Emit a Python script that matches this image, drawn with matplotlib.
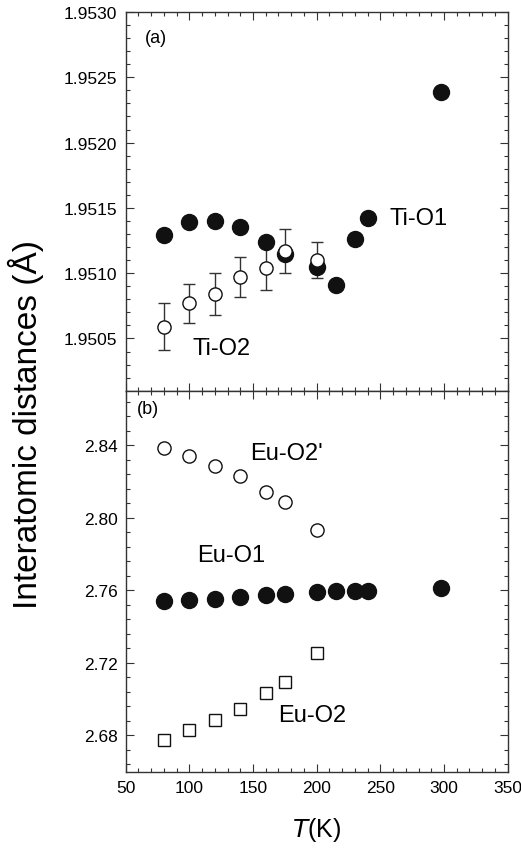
import matplotlib
matplotlib.use("Agg")
import matplotlib.pyplot as plt
from matplotlib.ticker import MultipleLocator, FormatStrFormatter

plt.rcParams['font.family'] = ['Liberation Sans', 'DejaVu Sans']

# panel (a)
T_tio1 = [80, 100, 120, 140, 160, 175, 200, 215, 230, 240, 298]
tio1 = [1.95129, 1.95139, 1.95140, 1.95135, 1.95124, 1.95115, 1.95105,
        1.95091, 1.95126, 1.95142, 1.95239]
T_tio2 = [80, 100, 120, 140, 160, 175, 200]
tio2 = [1.95059, 1.95077, 1.95084, 1.95097, 1.95104, 1.95117, 1.95110]
tio2_err = [0.00018, 0.00015, 0.00016, 0.00015, 0.00017, 0.00017, 0.00014]

# panel (b)
T_euo2p = [80, 100, 120, 140, 160, 175, 200]
euo2p = [2.8385, 2.8339, 2.8284, 2.8229, 2.8143, 2.8086, 2.7930]
T_euo1 = [80, 100, 120, 140, 160, 175, 200, 215, 230, 240, 298]
euo1 = [2.7542, 2.7549, 2.7554, 2.7563, 2.7572, 2.7578, 2.7589, 2.7595,
        2.7598, 2.7598, 2.7611]
T_euo2 = [80, 100, 120, 140, 160, 175, 200]
euo2 = [2.6775, 2.6828, 2.6883, 2.6948, 2.7034, 2.7096, 2.7252]

fig = plt.figure(figsize=(5.21, 8.53), dpi=100)
ax1 = fig.add_axes([0.2413, 0.5408, 0.733, 0.444])
ax2 = fig.add_axes([0.2413, 0.0941, 0.733, 0.4467])

# (a)
ax1.errorbar(T_tio2, tio2, yerr=tio2_err, fmt='none', ecolor='#333333',
             elinewidth=1, capsize=4, capthick=1, zorder=1)
ax1.plot(T_tio1, tio1, 'o', color='#111111', ms=11.5, zorder=2)
ax1.plot(T_tio2, tio2, 'o', mfc='white', mec='#111111', mew=1, ms=9.5, zorder=3)
ax1.set_xlim(50, 350)
ax1.set_ylim(1.95010, 1.95300)
ax1.yaxis.set_major_locator(MultipleLocator(0.0005))
ax1.yaxis.set_minor_locator(MultipleLocator(0.0001))
ax1.yaxis.set_major_formatter(FormatStrFormatter('%.4f'))
ax1.set_xticklabels([])
ax1.text(0.05, 0.955, '(a)', transform=ax1.transAxes, fontsize=13, va='top')
ax1.text(257, 1.95142, 'Ti-O1', fontsize=17, va='center')
ax1.text(102.5, 1.95043, 'Ti-O2', fontsize=17, va='center')

# (b)
ax2.plot(T_euo1, euo1, 'o', color='#111111', ms=11.5)
ax2.plot(T_euo2p, euo2p, 'o', mfc='white', mec='#111111', mew=1, ms=9.5)
ax2.plot(T_euo2, euo2, 's', mfc='white', mec='#111111', mew=1, ms=9)
ax2.set_xlim(50, 350)
ax2.set_ylim(2.66, 2.87)
ax2.xaxis.set_major_locator(MultipleLocator(50))
ax2.yaxis.set_major_locator(MultipleLocator(0.04))
ax2.yaxis.set_minor_locator(MultipleLocator(0.008))
ax2.yaxis.set_major_formatter(FormatStrFormatter('%.2f'))
ax2.text(0.03, 0.975, '(b)', transform=ax2.transAxes, fontsize=13, va='top')
ax2.text(148, 2.8357, "Eu-O2'", fontsize=17, va='center')
ax2.text(105.8, 2.7796, 'Eu-O1', fontsize=17, va='center')
ax2.text(169.6, 2.6913, 'Eu-O2', fontsize=17, va='center')
ax2.set_xlabel(r'$T$(K)', fontsize=18, labelpad=14)

for ax in (ax1, ax2):
    ax.xaxis.set_minor_locator(MultipleLocator(10))
    ax.tick_params(which='both', direction='in', top=True, right=True,
                   labelsize=12.5, width=0.8, color='#333333')
    ax.tick_params(which='major', length=6, pad=6)
    ax.tick_params(which='minor', length=3)
    for s in ax.spines.values():
        s.set_linewidth(1.0)
        s.set_color('#333333')

fig.text(0.05, 0.502, 'Interatomic distances (Å)', rotation=90,
         fontsize=24, ha='center', va='center')

fig.savefig('out.png', dpi=100)
